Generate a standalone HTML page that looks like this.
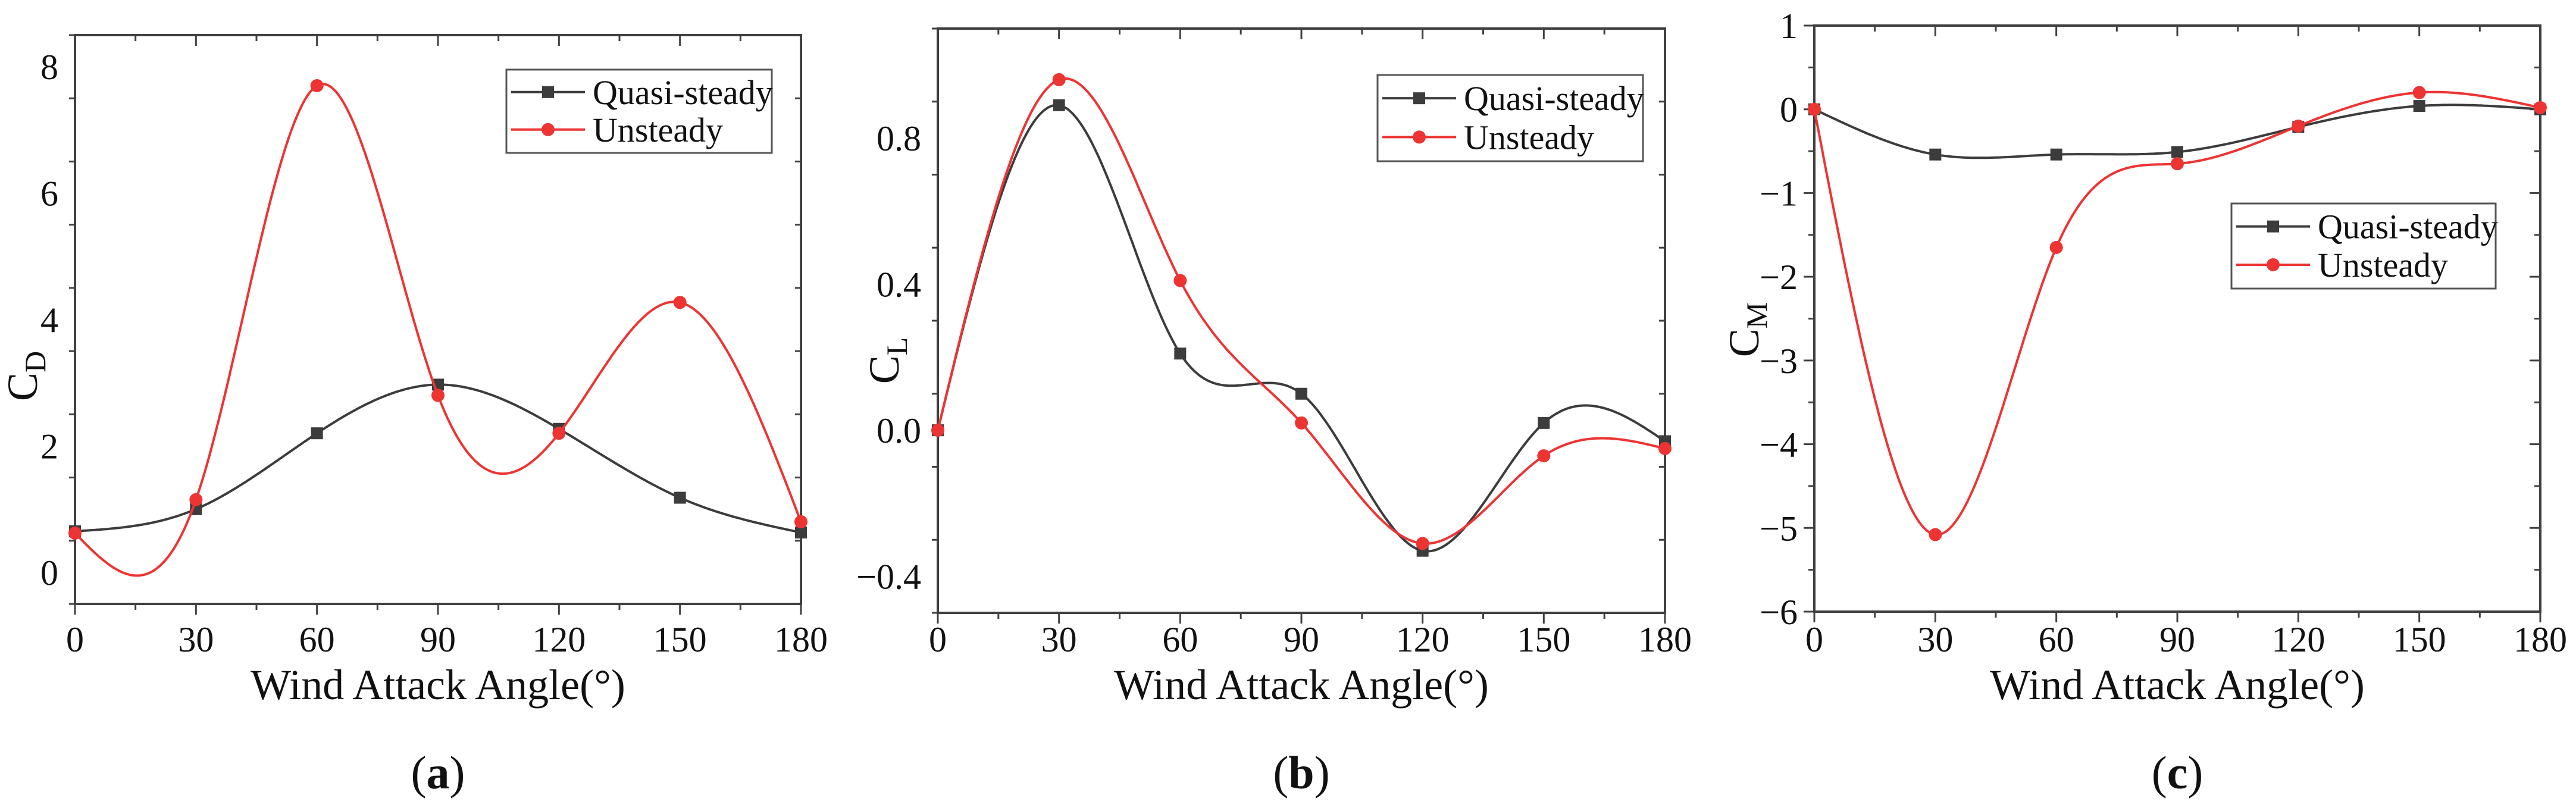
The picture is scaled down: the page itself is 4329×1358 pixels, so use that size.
<!DOCTYPE html>
<html><head><meta charset="utf-8"><style>
html,body{margin:0;padding:0;background:#fff;}
svg{display:block;}
svg text{font-family:"Liberation Serif","Times New Roman",serif;}
</style></head><body>
<svg id="fig" width="4329" height="1358" viewBox="0 0 4329 1358" xmlns="http://www.w3.org/2000/svg" font-family="Liberation Serif, serif"></svg>
<script>
const angles = [0, 30, 60, 90, 120, 150, 180];
const xTicks = [0, 30, 60, 90, 120, 150, 180];
const cdQuasi = [0.65, 1.0, 2.2, 2.97, 2.27, 1.18, 0.63];
const cdUnsteady = [0.62, 1.15, 7.7, 2.8, 2.2, 4.27, 0.8];
const clQuasi = [0.0, 0.89, 0.21, 0.10, -0.33, 0.02, -0.03];
const clUnsteady = [0.0, 0.96, 0.41, 0.02, -0.31, -0.07, -0.05];
const cmQuasi = [0, -0.54, -0.54, -0.51, -0.21, 0.04, 0.0];
const cmUnsteady = [0, -5.08, -1.65, -0.65, -0.2, 0.2, 0.02];
const cdTicks = [0, 2, 4, 6, 8];
const clTicks = [-0.4, 0.0, 0.4, 0.8];
const cmTicks = [1, 0, -1, -2, -3, -4, -5, -6];

const NS = "http://www.w3.org/2000/svg";
const svg = document.getElementById('fig');
function mk(tag, attrs, parent){const e=document.createElementNS(NS,tag);for(const k in attrs)e.setAttribute(k,attrs[k]);if(tag==='text')e.setAttribute('font-family','Liberation Serif, serif');(parent||svg).appendChild(e);return e;}

function spline(xs, ys){
  const n=xs.length, h=[], a=[], l=[1], mu=[0], z=[0], c=new Array(n).fill(0), b=[], d=[];
  for(let i=0;i<n-1;i++)h.push(xs[i+1]-xs[i]);
  for(let i=1;i<n-1;i++)a[i]=3/h[i]*(ys[i+1]-ys[i])-3/h[i-1]*(ys[i]-ys[i-1]);
  for(let i=1;i<n-1;i++){l[i]=2*(xs[i+1]-xs[i-1])-h[i-1]*mu[i-1];mu[i]=h[i]/l[i];z[i]=(a[i]-h[i-1]*z[i-1])/l[i];}
  l[n-1]=1;z[n-1]=0;
  for(let j=n-2;j>=0;j--){c[j]=z[j]-mu[j]*c[j+1];b[j]=(ys[j+1]-ys[j])/h[j]-h[j]*(c[j+1]+2*c[j])/3;d[j]=(c[j+1]-c[j])/(3*h[j]);}
  return x=>{let j=xs.findIndex((v,i)=>i<n-1&&x<=xs[i+1]);if(j<0)j=n-2;const t=x-xs[j];return ys[j]+b[j]*t+c[j]*t*t+d[j]*t*t*t;};
}

function panel(o){
  const g=mk('g',{});
  
  
  const X=v=>o.L+(v-0)/(180)*(o.R-o.L);
  const Y=v=>o.B-(v-o.ymin)/(o.ymax-o.ymin)*(o.B-o.T);
  const ax='#404040';
  const xt=mk('g',{},g);
  for(let v=0;v<=180;v+=15){
    const major=v%30===0, len=major?18:10;
    mk('line',{x1:X(v),x2:X(v),y1:o.B,y2:o.B+len,stroke:ax,'stroke-width':3},xt);
    mk('line',{x1:X(v),x2:X(v),y1:o.T,y2:o.T+len,stroke:ax,'stroke-width':3},xt);
  }
  xTicks.forEach(v=>{const t=mk('text',{x:X(v),y:1095,'font-size':60,'text-anchor':'middle',fill:'#111'},xt);t.textContent=v;});
  const yt=mk('g',{},g);
  const step=o.ystep;
  for(let v=o.ymin;v<=o.ymax+1e-9;v+=step/2){
    const major=Math.abs((v-o.ticks[0])/step-Math.round((v-o.ticks[0])/step))<1e-6, len=major?18:10;
    mk('line',{x1:o.L-len,x2:o.L,y1:Y(v),y2:Y(v),stroke:ax,'stroke-width':3},yt);
    mk('line',{x1:o.R-len,x2:o.R,y1:Y(v),y2:Y(v),stroke:ax,'stroke-width':3},yt);
  }
  o.ticks.forEach(v=>{const t=mk('text',{x:o.L-28,y:Y(v)+21,'font-size':60,'text-anchor':'end',fill:'#111'},yt);t.textContent=(v<0?'\u2212':'')+Math.abs(v).toFixed(o.dec);});
  const fr=mk('rect',{x:o.L,y:o.T,width:o.R-o.L,height:o.B-o.T,fill:'none',stroke:ax,'stroke-width':4},g);
  
  const series=[{d:o.q,c:'#3c3c3c',m:'sq',n:'quasi-steady'},{d:o.u,c:'#ee3333',m:'ci',n:'unsteady'}];
  series.forEach(s=>{
    const f=spline(angles,s.d);let p='';
    for(let x=0;x<=180;x+=0.5)p+=(x?'L':'M')+X(x).toFixed(1)+' '+Y(f(x)).toFixed(1);
    const pl=mk('path',{d:p,fill:'none',stroke:s.c,'stroke-width':4},g);
    
    angles.forEach((a,i)=>{
      let m;
      if(s.m==='sq')m=mk('rect',{x:X(a)-10,y:Y(s.d[i])-10,width:20,height:20,fill:s.c},g);
      else m=mk('circle',{cx:X(a),cy:Y(s.d[i]),r:11,fill:s.c},g);
      
    });
  });
  const lg=mk('g',{},g);
  const [lx,ly,lw,lh]=o.leg;
  mk('rect',{x:lx,y:ly,width:lw,height:lh,fill:'#fff',stroke:'#555','stroke-width':3},lg);
  series.forEach((s,i)=>{
    const yy=ly+lh*(i?0.72:0.27);
    const e=mk('g',{},lg);
    mk('line',{x1:lx+8,x2:lx+132,y1:yy,y2:yy,stroke:s.c,'stroke-width':4},e);
    if(s.m==='sq')mk('rect',{x:lx+60,y:yy-10,width:20,height:20,fill:s.c},e);else mk('circle',{cx:lx+70,cy:yy,r:11,fill:s.c},e);
    const t=mk('text',{x:lx+145,y:yy+20,'font-size':58,fill:'#111'},e);t.textContent=i?'Unsteady':'Quasi-steady';
  });
  const xtl=mk('text',{x:(o.L+o.R)/2,y:1175,'font-size':72,'text-anchor':'middle',fill:'#111'},g);
  xtl.textContent='Wind Attack Angle(°)';
  const ytl=mk('text',{x:0,y:0,'font-size':72,'text-anchor':'middle',fill:'#111',transform:`translate(${o.ylx},${o.yly}) rotate(-90)`},g);
  
  const t1=mk('tspan',{},ytl);t1.textContent='C';
  const t2=mk('tspan',{'font-size':50,dy:14},ytl);t2.textContent=o.sub;
  const cap=mk('text',{x:(o.L+o.R)/2,y:1325,'font-size':78,'text-anchor':'middle',fill:'#111'},g);
  
  const c1=mk('tspan',{},cap);c1.textContent='(';const c2=mk('tspan',{'font-weight':'bold'},cap);c2.textContent=o.lab;const c3=mk('tspan',{},cap);c3.textContent=')';
}

panel({name:'panel-a-drag',L:126,R:1346,T:59,B:1015,ymin:-0.5,ymax:8.5,ystep:2,ticks:cdTicks,dec:0,q:cdQuasi,u:cdUnsteady,leg:[851,117,446,140],sub:'D',ylx:62,yly:632,lab:'a'});
panel({name:'panel-b-lift',L:1576,R:2798,T:48,B:1030,ymin:-0.5,ymax:1.1,ystep:0.4,ticks:clTicks,dec:1,q:clQuasi,u:clUnsteady,leg:[2315,126,446,145],sub:'L',ylx:1510,yly:606,lab:'b'});
panel({name:'panel-c-moment',L:3049,R:4269,T:43,B:1028,ymin:-6,ymax:1,ystep:1,ticks:cmTicks,dec:0,q:cmQuasi,u:cmUnsteady,leg:[3750,342,444,143],sub:'M',ylx:2955,yly:554,lab:'c'});
</script>
</body></html>
